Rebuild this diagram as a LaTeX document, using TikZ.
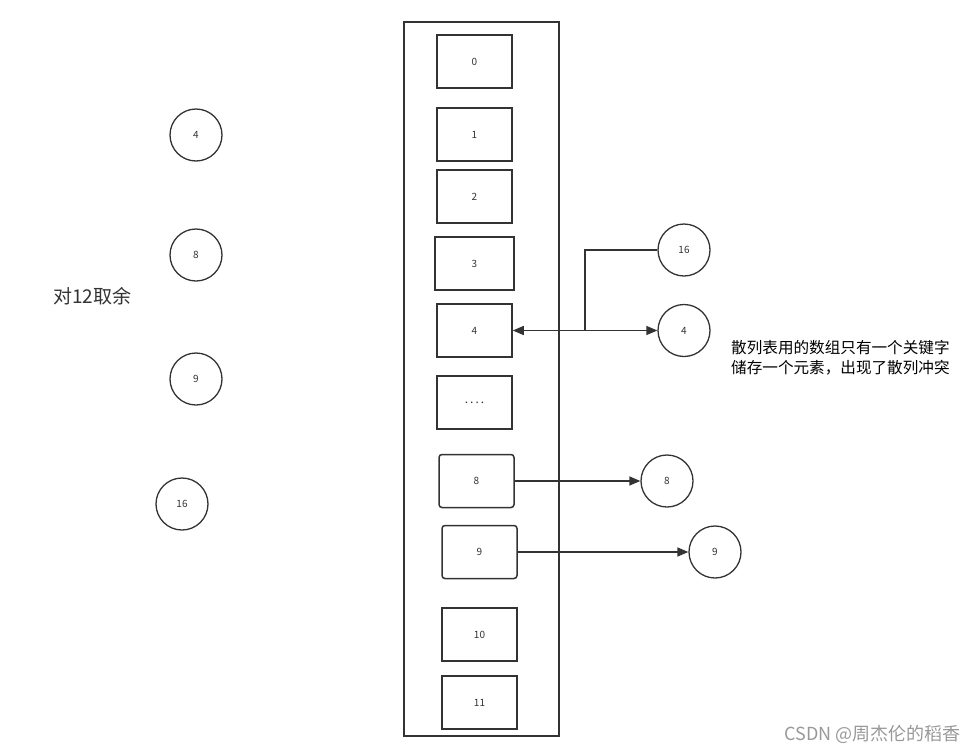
\documentclass[tikz,border=0pt]{standalone}
\usepackage{fontspec}
\setmainfont{Noto Sans CJK SC}
\newfontfamily\cjk{Noto Sans CJK SC}
\usetikzlibrary{arrows.meta}
\definecolor{ln}{HTML}{333333}
\definecolor{wm}{HTML}{999999}
\tikzset{
  cell/.style={draw=ln, line width=1.5pt, minimum width=75pt, minimum height=53pt, inner sep=0pt, font=\fontsize{10}{11}\selectfont, text=ln},
  rcell/.style={cell, rounded corners=3pt},
  key/.style={draw=ln, line width=1.3pt, circle, minimum size=52pt, inner sep=0pt, font=\fontsize{10}{11}\selectfont, text=ln},
  conn/.style={draw=ln, line width=1.4pt},
  tip/.style={-{Triangle[length=11pt,width=9pt]}}
}
\begin{document}
\begin{tikzpicture}[x=1pt,y=-1pt]
\useasboundingbox (0,0) rectangle (977,755);
\fill[white] (0,0) rectangle (977,755);
\node[draw=ln, line width=1.5pt, minimum width=155pt, minimum height=714pt, inner sep=0pt] (arr) at (481.5,379) {};
\node[cell] (c0) at (474.5,61.5) {0};
\node[cell] (c1) at (474.5,134.5) {1};
\node[cell] (c2) at (474.5,196.5) {2};
\node[cell, minimum width=79pt] (c3) at (474.5,263.5) {3};
\node[cell] (c4) at (474.5,330.5) {4};
\node[cell, font=\fontsize{12}{12}\selectfont] (cd) at (474.5,402.5) {.\,.\,.\,.};
\node[rcell] (c8) at (476.5,481) {8};
\node[rcell] (c9) at (479.5,552) {9};
\node[cell] (c10) at (479.5,634.5) {10};
\node[cell] (c11) at (479.5,702.5) {11};
\node[key] (l4) at (196,135) {4};
\node[key] (l8) at (196,255) {8};
\node[key] (l9) at (196,379) {9};
\node[key] (l16) at (182,504) {16};
\node[key] (r16) at (684,250) {16};
\node[key] (r4) at (684,330.5) {4};
\node[key] (r8) at (667,481) {8};
\node[key] (r9) at (715,552) {9};
\coordinate (j) at (585,330.5);
\draw[conn, tip] (j) -- (c4.east);
\draw[conn, tip] (j) -- (r4.west);
\draw[conn] (r16.west) -| (j);
\draw[conn, tip] (c8.east) -- (r8.west);
\draw[conn, tip] (c9.east) -- (r9.west);
\node[anchor=west, inner sep=0pt, font=\fontsize{19}{22}\selectfont, text=ln] (mod) at (53,296) {对12取余};
\node[anchor=north west, inner sep=0pt, align=left, font=\fontsize{15.6}{20.5}\selectfont, text=black] (note) at (731,340) {散列表用的数组只有一个关键字\\储存一个元素，出现了散列冲突};
\node[anchor=east, inner sep=0pt, font=\fontsize{18}{20}\selectfont, text=wm] (wmk) at (961,734) {CSDN @周杰伦的稻香};
\end{tikzpicture}
\end{document}
